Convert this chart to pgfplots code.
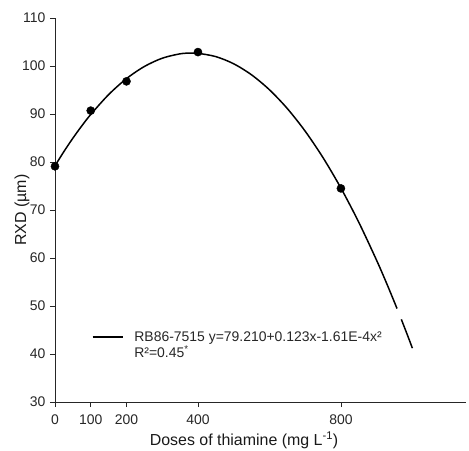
\documentclass[border=0pt]{standalone}
\usepackage{pgfplots}
\pgfplotsset{compat=1.18}
\usepackage{fontspec}
\setmainfont{Liberation Sans}
\begin{document}
\begin{tikzpicture}
\path[use as bounding box] (-55bp,-49bp) rectangle (414bp,402bp);
\begin{axis}[
  scale only axis, width=411bp, height=384bp,
  at={(0,0)}, anchor=south west,
  xmin=0, xmax=1150, ymin=30, ymax=110,
  axis lines*=left,
  axis line style={line width=0.8pt, black!85},
  xtick={0,100,200,400,800}, ytick={30,40,...,110},
  tick align=outside, major tick length=5bp,
  tick style={line width=0.8pt, black!85},
  /pgf/number format/assume math mode=true,
  ticklabel style={font=\fontsize{14}{16}\selectfont, text=black!85},
  xticklabel style={yshift=-4bp},
  yticklabel style={xshift=-1bp},
  xlabel={Doses of thiamine (mg L\textsuperscript{-1})},
  ylabel={RXD (µm)},
  label style={font=\fontsize{16}{18}\selectfont, text=black!90},
  xlabel style={at={(axis description cs:0.46,0)}, anchor=north, yshift=-26bp},
  ylabel style={at={(axis description cs:0,0.5)}, anchor=south, yshift=22bp},
  legend style={at={(axis description cs:0.082,0.195)}, anchor=north west, draw=none, fill=none,
    font=\fontsize{14}{16}\selectfont, text=black!85, row sep=-1bp,
    cells={anchor=west}},
  legend image code/.code={\draw[line width=1.5pt] (0bp,0bp) -- (30bp,0bp);},
  legend cell align=left,
  clip=false,
]
\addplot[black, line width=1.5pt, smooth] coordinates {
(0,79.21) (25,82.184) (50,84.958) (75,87.529) (100,89.90) (150,94.038) (200,97.37)
(250,99.898) (300,101.62) (350,102.538) (382,102.702) (400,102.65) (450,101.958)
(500,100.46) (550,98.158) (600,95.05) (650,91.138) (700,86.42) (750,80.898)
(800,74.57) (850,67.438) (900,59.50) (930,54.351) (957,49.469)
};
\addlegendentry{\hspace{9bp}RB86-7515 y=79.210+0.123x-1.61E-4x²}
\addlegendimage{empty legend}
\addlegendentry{\hspace{9bp}R²=0.45\textsuperscript{*}}
\addplot[black, line width=1.5pt, smooth, forget plot] coordinates {
(969,47.224) (985,44.159) (1000,41.21)
};
\addplot[only marks, mark=*, mark size=4.1pt, black, forget plot] coordinates {
(0,79.1) (100,90.7) (200,96.8) (400,102.9) (800,74.5)
};
\end{axis}
\end{tikzpicture}
\end{document}
